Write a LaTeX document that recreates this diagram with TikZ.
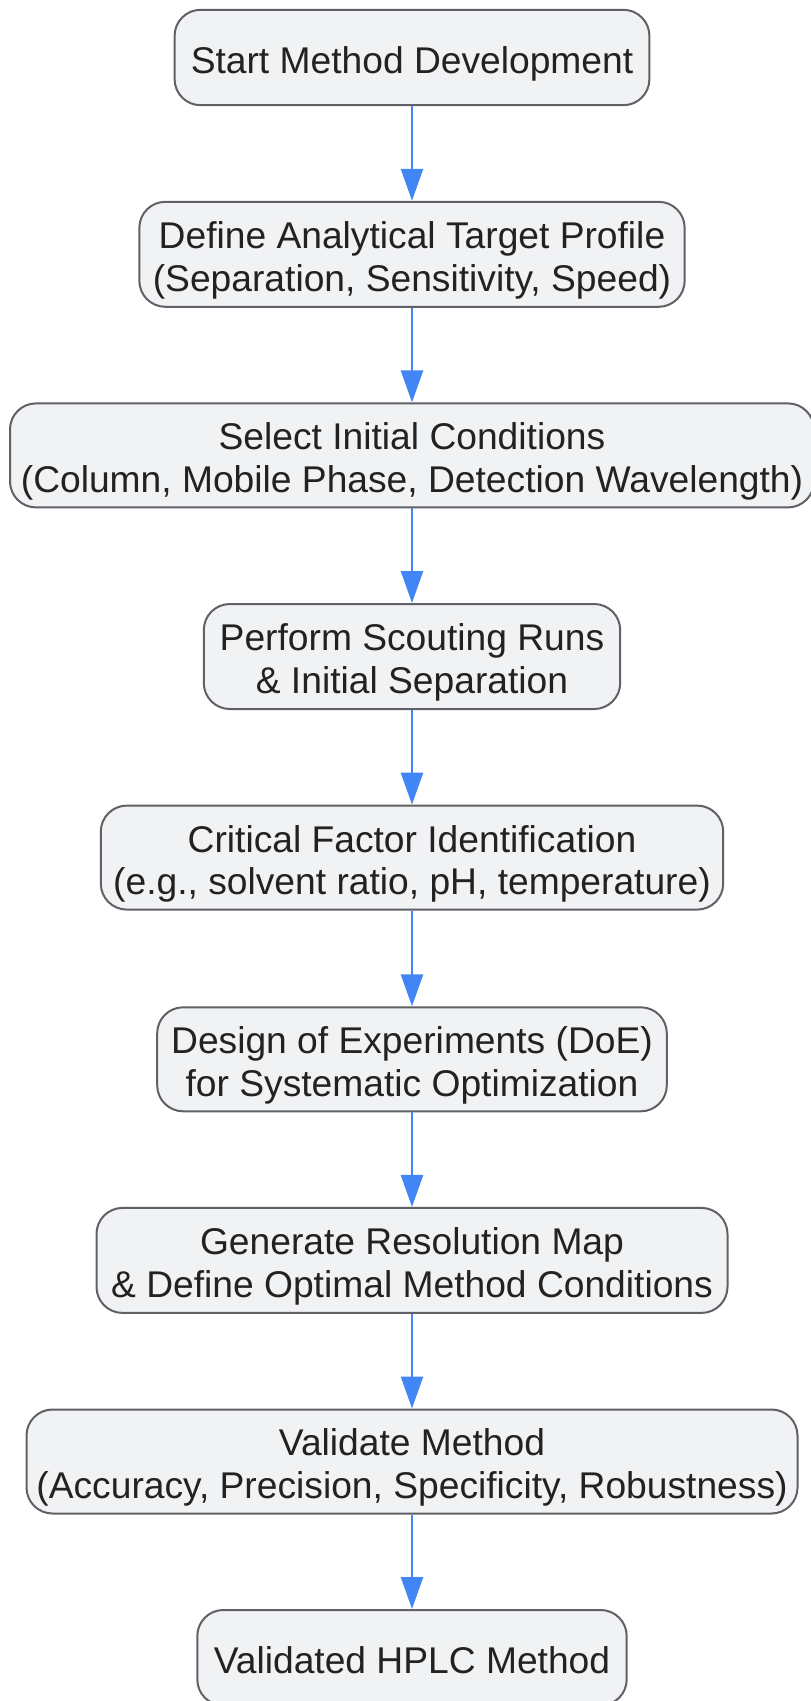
\documentclass[tikz,border=0pt]{standalone}
\usepackage{fontspec}
\setmainfont{Liberation Sans}
\usetikzlibrary{arrows.meta}
\definecolor{boxfill}{HTML}{F1F2F4}
\definecolor{boxdraw}{HTML}{5F6166}
\definecolor{arrowblue}{HTML}{4285F4}
\definecolor{txt}{HTML}{222222}
\newcommand{\lbl}[1]{\raisebox{-7.2pt}[\height][\depth]{\begin{tabular}{@{}c@{}}#1\end{tabular}}}
\tikzset{
  stepbox/.style={draw=boxdraw, fill=boxfill, line width=2pt, rounded corners=26pt,
    align=center, inner sep=0pt, text=txt,
    font=\fontsize{37.2}{42.6}\selectfont},
  flow/.style={draw=arrowblue, line width=2.5pt, -{Triangle[length=32pt,width=22pt]}}
}
\begin{document}
\begin{tikzpicture}[x=1pt,y=-1pt]
\useasboundingbox (0,0) rectangle (811,1701);
\clip (0,0) rectangle (811,1701);
\node[stepbox, minimum width=474.8pt, minimum height=95.4pt] (n1) at (412,57.5) {\lbl{Start Method Development}};
\node[stepbox, minimum width=545.3pt, minimum height=105pt] (n2) at (412,254.3) {\lbl{Define Analytical Target Profile\\(Separation, Sensitivity, Speed)}};
\node[stepbox, minimum width=804pt, minimum height=104pt] (n3) at (412,455.4) {\lbl{Select Initial Conditions\\(Column, Mobile Phase, Detection Wavelength)}};
\node[stepbox, minimum width=416.4pt, minimum height=105pt] (n4) at (412,656.5) {\lbl{Perform Scouting Runs\\\& Initial Separation}};
\node[stepbox, minimum width=622.4pt, minimum height=104pt] (n5) at (412,857.6) {\lbl{Critical Factor Identification\\(e.g., solvent ratio, pH, temperature)}};
\node[stepbox, minimum width=509.6pt, minimum height=104pt] (n6) at (412,1059.3) {\lbl{Design of Experiments (DoE)\\for Systematic Optimization}};
\node[stepbox, minimum width=631pt, minimum height=105pt] (n7) at (412,1260.4) {\lbl{Generate Resolution Map\\\& Define Optimal Method Conditions}};
\node[stepbox, minimum width=771pt, minimum height=104pt] (n8) at (412,1461.5) {\lbl{Validate Method\\(Accuracy, Precision, Specificity, Robustness)}};
\node[stepbox, minimum width=429.4pt, minimum height=95.4pt] (n9) at (412,1657.7) {\lbl{Validated HPLC Method}};
\foreach \a/\b in {n1/n2,n2/n3,n3/n4,n4/n5,n5/n6,n6/n7,n7/n8,n8/n9}
  \draw[flow] (\a.south) -- (\b.north);
\end{tikzpicture}
\end{document}
